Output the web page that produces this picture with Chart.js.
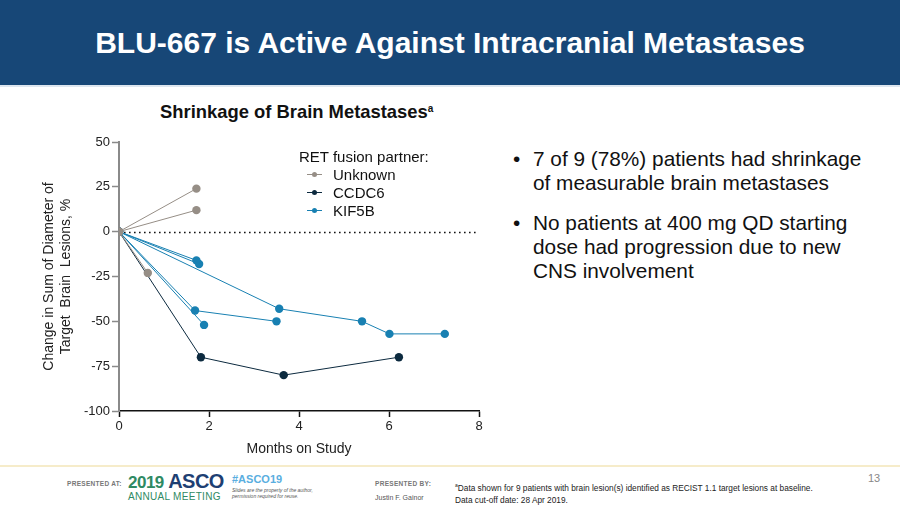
<!DOCTYPE html>
<html lang="en">
<head>
  <meta charset="UTF-8" />
  <title>BLU-667 Intracranial Activity</title>
  <style>
    body { margin: 0; width: 900px; height: 506px; background: #fff; font-family: "Liberation Sans", Arial, sans-serif; position: relative; overflow: hidden; }
    #header { position: absolute; left: 0; top: 0; width: 900px; height: 85px; background: #174777; border-bottom: 2px solid #dde6ef; }
    #header h1 { margin: 0; color: #fff; font-size: 30px; font-weight: bold; text-align: center; line-height: 86px; }
    #chartTitle { position: absolute; left: 160px; top: 101px; font-size: 18.4px; font-weight: bold; color: #111; }
    #chartTitle sup { font-size: 10px; vertical-align: 6px; }
    #chartBox { position: absolute; left: 20px; top: 128px; width: 480px; height: 335px; }
    #legend { position: absolute; left: 299px; top: 148px; font-size: 15px; color: #111; line-height: 18px; }
    #legend .item { padding-left: 34px; position: relative; }
    #legend .mk { position: absolute; left: 8px; top: 8px; width: 15px; height: 1px; }
    #legend .mk i { position: absolute; left: 5px; top: -2px; width: 5px; height: 5px; border-radius: 50%; }
    #bullets { position: absolute; left: 513px; top: 147px; font-size: 20.8px; color: #111; line-height: 24px; }
    #bullets .b { position: relative; padding-left: 20px; margin-bottom: 16px; }
    #bullets .b:before { content: "\2022"; position: absolute; left: 0; }
    #footLine { position: absolute; left: 0; top: 465px; width: 900px; height: 2px; background: #f6ecca; }
    .ft { position: absolute; white-space: nowrap; }
  </style>
  <script src="https://cdn.jsdelivr.net/npm/chart.js"></script>
</head>
<body>
  <div id="header"><h1>BLU-667 is Active Against Intracranial Metastases</h1></div>
  <div id="chartTitle">Shrinkage of Brain Metastases<sup>a</sup></div>
  <div id="chartBox"><canvas id="brainChart"></canvas></div>
  <div id="legend"></div>
  <div id="bullets">
    <div class="b">7 of 9 (78%) patients had shrinkage<br>of measurable brain metastases</div>
    <div class="b">No patients at 400 mg QD starting<br>dose had progression due to new<br>CNS involvement</div>
  </div>

  <div id="footLine"></div>
  <div class="ft" style="left:67px;top:480px;font-size:6.5px;font-weight:bold;color:#777;letter-spacing:0.3px;">PRESENTED AT:</div>
  <div class="ft" style="left:128px;top:470px;font-size:20px;font-weight:bold;color:#1e3f73;letter-spacing:-0.5px;"><span style="color:#2f8a63;font-size:17px;">2019</span> ASCO</div>
  <div class="ft" style="left:128px;top:491px;font-size:10px;color:#2f8a63;letter-spacing:0.3px;">ANNUAL MEETING</div>
  <div class="ft" style="left:232px;top:473px;font-size:11px;font-weight:bold;color:#5aaee0;">#ASCO19</div>
  <div class="ft" style="left:232px;top:487px;font-size:5px;font-style:italic;color:#555;line-height:6px;">Slides are the property of the author,<br>permission required for reuse.</div>
  <div class="ft" style="left:375px;top:480px;font-size:6.5px;font-weight:bold;color:#777;letter-spacing:0.3px;">PRESENTED BY:</div>
  <div class="ft" style="left:375px;top:494px;font-size:7px;color:#555;">Justin F. Gainor</div>
  <div class="ft" style="left:455px;top:479px;font-size:8.3px;color:#222;line-height:12px;"><sup style="font-size:5px;">a</sup>Data shown for 9 patients with brain lesion(s) identified as RECIST 1.1 target lesions at baseline.<br>Data cut-off date: 28 Apr 2019.</div>
  <div class="ft" style="left:868px;top:472px;font-size:11px;color:#888;">13</div>

  <script>
    // one entry per patient
    const patientPartner = ['Unknown', 'Unknown', 'Unknown', 'CCDC6', 'KIF5B', 'KIF5B', 'KIF5B', 'KIF5B', 'KIF5B'];
    const patientMonths = [
      [0, 1.72], [0, 1.72], [0, 0.64],
      [0, 1.82, 3.66, 6.22],
      [0, 1.72], [0, 1.78], [0, 1.69, 3.5], [0, 1.89], [0, 3.56, 5.4, 6.01, 7.24]
    ];
    const patientChange = [
      [0, 24], [0, 12], [0, -23],
      [0, -70, -80, -70],
      [0, -16], [0, -18], [0, -44, -50], [0, -52], [0, -43, -50, -57, -57]
    ];
    const partners = ['Unknown', 'CCDC6', 'KIF5B'];
    const partnerColors = ['#968e86', '#0c2a3f', '#1880b2'];
    const xTickValues = [0, 2, 4, 6, 8];
    const yTickValues = [50, 25, 0, -25, -50, -75, -100];

    const datasets = patientPartner.map((p, i) => {
      const c = partnerColors[partners.indexOf(p)];
      return {
        label: p,
        data: patientMonths[i].map((m, j) => ({ x: m, y: patientChange[i][j] })),
        showLine: true,
        borderColor: c,
        backgroundColor: c,
        borderWidth: 1,
        pointRadius: 4.2,
        pointHoverRadius: 4.2,
        pointBorderWidth: 0
      };
    });

    // legend in html
    document.getElementById('legend').innerHTML = 'RET fusion partner:' + partners.map((p, i) =>
      `<div class="item"><span class="mk" style="background:${partnerColors[i]}"><i style="background:${partnerColors[i]}"></i></span>${p}</div>`).join('');

    const zeroLine = {
      id: 'zeroLine',
      beforeDatasetsDraw(chart) {
        const { ctx, chartArea, scales } = chart;
        const y = Math.round(scales.y.getPixelForValue(0)) + 0.5;
        ctx.save();
        ctx.strokeStyle = '#111';
        ctx.lineWidth = 1.6;
        ctx.setLineDash([1.6, 3.4]);
        ctx.beginPath();
        ctx.moveTo(chartArea.left, y);
        ctx.lineTo(chartArea.right, y);
        ctx.stroke();
        ctx.restore();
      }
    };

    new Chart(document.getElementById('brainChart'), {
      type: 'scatter',
      data: { datasets },
      plugins: [zeroLine],
      options: {
        responsive: true,
        maintainAspectRatio: false,
        animation: false,
        layout: { padding: { top: 14, right: 21, left: 0, bottom: 0 } },
        plugins: { legend: { display: false }, tooltip: { enabled: false } },
        scales: {
          x: {
            type: 'linear', min: 0, max: 8,
            afterBuildTicks: s => { s.ticks = xTickValues.map(v => ({ value: v })); },
            afterFit: s => { s.height = 52; },
            border: { color: '#111', width: 1.5 },
            grid: { drawOnChartArea: false, color: '#111', tickLength: 6, tickWidth: 1.5 },
            ticks: { color: '#222', font: { family: 'Liberation Sans', size: 13 }, padding: 2 },
            title: { display: true, text: 'Months on Study', color: '#222', font: { family: 'Liberation Sans', size: 14 }, padding: { top: 4, bottom: 5 } }
          },
          y: {
            type: 'linear', min: -100, max: 50,
            afterBuildTicks: s => { s.ticks = yTickValues.map(v => ({ value: v })); },
            afterFit: s => { s.width = 99; },
            border: { color: '#8a8a8a', width: 2 },
            grid: { drawOnChartArea: false, color: '#8a8a8a', tickLength: 7, tickWidth: 1.5 },
            ticks: { color: '#222', font: { family: 'Liberation Sans', size: 13 }, padding: 2 },
            title: { display: true, text: ['Change in Sum of Diameter of', 'Target  Brain  Lesions, %'], color: '#222', font: { family: 'Liberation Sans', size: 14 }, padding: { top: 21, bottom: 0 } }
          }
        }
      }
    });
  </script>
</body>
</html>
